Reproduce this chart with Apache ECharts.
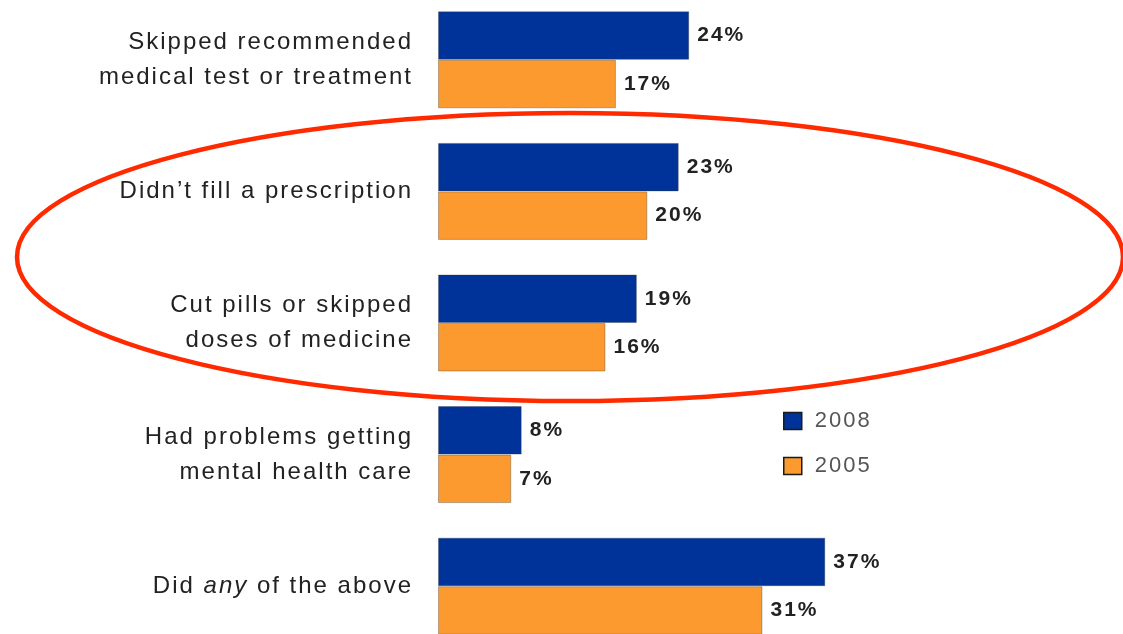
<!DOCTYPE html>
<html>
<head>
<meta charset="utf-8">
<script src="https://cdn.jsdelivr.net/npm/echarts@6/dist/echarts.min.js"></script>
<style>
  html, body { margin: 0; padding: 0; background: #fff; }
  #chart { width: 1123px; height: 634px; }
</style>
</head>
<body>
<div id="chart"></div>
<script>
// Survey items, top to bottom
const categories = [
  'Skipped recommended\nmedical test or treatment',
  'Didn\u2019t fill a prescription',
  'Cut pills or skipped\ndoses of medicine',
  'Had problems getting\nmental health care',
  'Did {i|any} of the above'
];
const seriesNames = ['2008', '2005'];
const values2008 = [24, 23, 19, 8, 37];
const values2005 = [17, 20, 16, 7, 31];

// Slightly open tracking for every piece of chart text
const TRACKING = '2px';
const ctxProto = CanvasRenderingContext2D.prototype;
const fontDesc = Object.getOwnPropertyDescriptor(ctxProto, 'font');
if (fontDesc && fontDesc.set) {
  Object.defineProperty(ctxProto, 'font', {
    configurable: true,
    get() { return fontDesc.get.call(this); },
    set(v) { fontDesc.set.call(this, v); this.letterSpacing = TRACKING; }
  });
}

const FONT = '"Liberation Sans", Arial, sans-serif';
const barBorder = { borderColor: 'rgba(60,60,60,0.35)', borderWidth: 1 };
const valueLabel = {
  show: true,
  position: 'right',
  distance: 8,
  formatter: '{c}%',
  fontFamily: FONT,
  fontSize: 21,
  fontWeight: 'bold',
  color: '#222'
};

const chart = echarts.init(document.getElementById('chart'), null, { renderer: 'canvas' });
chart.setOption({
  backgroundColor: '#fff',
  animation: false,
  grid: { left: 438, top: -6, width: 628, height: 658, outerBoundsMode: 'none', containLabel: false },
  xAxis: {
    type: 'value', min: 0, max: 60,
    show: false
  },
  yAxis: {
    type: 'category',
    data: categories,
    inverse: true,
    axisLine: { show: false },
    axisTick: { show: false },
    splitLine: { show: false },
    axisLabel: {
      margin: 25,
      fontFamily: FONT,
      fontSize: 24,
      lineHeight: 35,
      color: '#222',
      align: 'right',
      rich: {
        i: { fontFamily: FONT, fontSize: 24, fontStyle: 'italic', color: '#222' }
      }
    }
  },
  legend: {
    data: seriesNames,
    orient: 'vertical',
    left: 783,
    top: 409,
    padding: 0,
    itemWidth: 18,
    itemHeight: 17,
    itemGap: 21,
    icon: 'rect',
    itemStyle: { borderColor: '#1a1a1a', borderWidth: 1.5 },
    textStyle: { fontFamily: FONT, fontSize: 22, color: '#555', padding: [0, 0, 0, 8] }
  },
  series: [
    {
      name: seriesNames[0],
      type: 'bar',
      data: values2008,
      barWidth: 48.5,
      barGap: '0%',
      itemStyle: Object.assign({ color: '#003399' }, barBorder),
      label: valueLabel
    },
    {
      name: seriesNames[1],
      type: 'bar',
      data: values2005,
      barWidth: 48.5,
      barGap: '0%',
      itemStyle: Object.assign({ color: '#FC9A30' }, barBorder),
      label: valueLabel
    }
  ],
  graphic: [
    {
      type: 'ellipse',
      z: 100,
      silent: true,
      shape: { cx: 570, cy: 257, rx: 553, ry: 144 },
      style: { fill: 'none', stroke: '#FF2A00', lineWidth: 4.5 }
    }
  ]
});
</script>
</body>
</html>
